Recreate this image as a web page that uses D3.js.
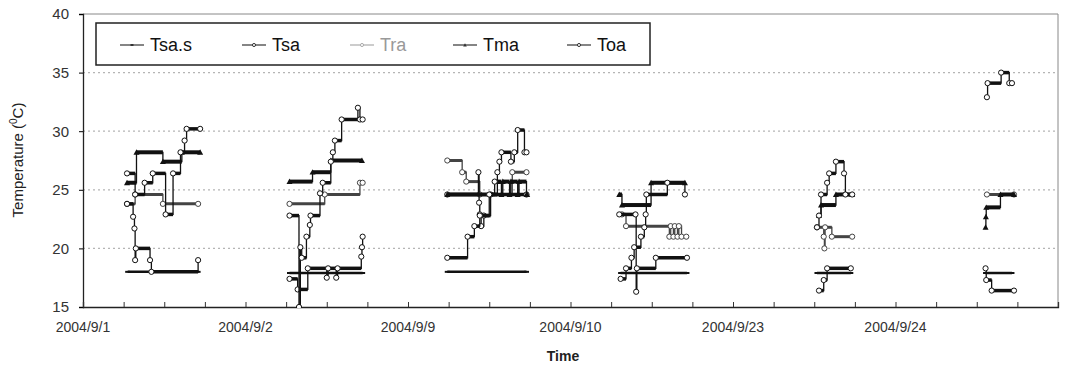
<!DOCTYPE html>
<html>
<head>
<meta charset="utf-8">
<script src="https://cdn.jsdelivr.net/npm/d3@7"></script>
<style>
body { margin: 0; background: #fff; }
svg { display: block; font-family: "Liberation Sans", Arial, sans-serif; }
</style>
</head>
<body>
<div class="chart"></div>
<script>
// day labels, one every 24 h (x values are hours from 2004/9/1 0:00 on the compressed axis)
var categories = ["2004/9/1", "2004/9/2", "2004/9/9", "2004/9/10", "2004/9/23", "2004/9/24"];
var yTicks = [15, 20, 25, 30, 35, 40];

// [hour, temperature], null = gap between days
var tsaS = [
    [6.6, 18.0], [17.0, 18.0], null,
    [30.5, 17.9], [41.3, 17.9], null,
    [53.8, 18.0], [65.5, 18.0], null,
    [79.4, 17.9], [89.2, 17.9], null,
    [108.4, 17.9], [113.4, 17.9], null,
    [133.3, 17.9], [137.2, 17.9]
];

var tsa = [
    [6.5, 23.8], [7.4, 22.7], [7.6, 21.7], [7.7, 19.0], [7.8, 20.0], [9.9, 19.0], [10.1, 18.0], [17.0, 19.0], null,
    [30.5, 17.4], [31.7, 16.5], [33.2, 18.3], [36.0, 17.5], [36.2, 18.3], [37.4, 17.5], [37.6, 18.3], [41.1, 19.3], [41.2, 20.1], [41.3, 21.0], null,
    [53.8, 24.6], [58.4, 26.5], [58.5, 23.9], [58.6, 22.9], [58.8, 21.9], [59.2, 22.8], [60.2, 24.6], [65.5, 24.6], null,
    [79.2, 22.9], [81.6, 22.9], [81.7, 16.3], [81.8, 18.3], [84.6, 19.2], [89.2, 19.2], null,
    [108.7, 16.4], [109.4, 17.3], [109.9, 18.3], [113.4, 18.3], null,
    [133.3, 18.3], [133.4, 17.3], [134.2, 16.4], [137.5, 16.4]
];

var tra = [
    [6.5, 23.8], [7.7, 24.6], [11.8, 23.8], [17.0, 23.8], null,
    [30.5, 23.8], [35.7, 24.6], [40.9, 25.6], [41.3, 25.6], null,
    [53.8, 27.5], [56.0, 26.5], [56.6, 25.7], [58.6, 24.6], [63.4, 26.5], [65.5, 26.5], null,
    [79.6, 22.9], [80.2, 21.9], [86.6, 21.0], [86.8, 21.9], [87.2, 21.0], [87.4, 21.9], [87.8, 21.0], [88.0, 21.9], [88.4, 21.0], [89.1, 21.0], null,
    [108.4, 21.8], [109.4, 21.0], [109.5, 20.0], [109.6, 21.8], [110.6, 21.0], [113.6, 21.0], null,
    [133.5, 24.6], [137.5, 24.6]
];

var tma = [
    [6.5, 25.6], [7.9, 28.2], [11.8, 27.4], [14.6, 28.2], [17.3, 28.2], null,
    [30.5, 25.7], [33.9, 26.5], [36.6, 27.5], [41.2, 27.5], null,
    [53.8, 24.6], [61.2, 25.7], [61.8, 24.6], [62.0, 25.7], [63.0, 24.6], [63.2, 25.7], [64.2, 24.6], [64.4, 25.7], [65.5, 24.6], [65.6, 24.6], null,
    [79.2, 24.6], [79.6, 23.7], [83.9, 25.6], [88.9, 25.6], null,
    [108.7, 22.8], [109.0, 23.7], [111.2, 24.6], [113.6, 24.6], null,
    [133.3, 21.8], [133.35, 22.7], [133.4, 23.5], [135.5, 24.6], [137.5, 24.6]
];

var toa = [
    [6.5, 26.4], [7.7, 24.6], [9.1, 25.6], [10.3, 26.4], [12.2, 22.9], [13.3, 26.4], [14.4, 28.2], [15.0, 29.2], [15.3, 30.2], [17.3, 30.2], null,
    [30.5, 22.8], [31.9, 15.0], [32.1, 20.1], [32.3, 19.2], [33.0, 21.0], [33.5, 22.0], [33.6, 22.8], [35.0, 24.7], [35.4, 25.6], [36.6, 27.4], [36.9, 28.2], [37.2, 29.2], [38.2, 31.0], [40.6, 32.0], [40.9, 31.0], [41.3, 31.0], null,
    [53.8, 19.2], [56.8, 21.0], [57.8, 21.9], [58.6, 22.8], [60.0, 24.6], [60.8, 25.7], [61.2, 26.5], [61.5, 27.4], [61.8, 28.2], [63.2, 27.4], [63.7, 28.2], [64.2, 30.1], [65.2, 28.2], [65.5, 28.2], null,
    [79.4, 17.4], [80.2, 18.3], [81.0, 19.2], [81.4, 20.1], [82.4, 21.0], [82.9, 21.8], [83.1, 22.9], [83.2, 24.6], [86.3, 25.6], [88.9, 24.6], null,
    [108.4, 21.8], [108.7, 22.8], [109.0, 24.6], [109.9, 25.6], [110.2, 26.4], [111.2, 27.4], [112.4, 26.4], [112.6, 24.6], [113.6, 24.6], null,
    [133.5, 32.9], [133.6, 34.1], [135.6, 35.0], [136.8, 34.1], [137.2, 34.1]
];

var series = [
    {name: "Tra", data: tra, color: "#444", legendColor: "#aaa", bar: 3, marker: "circle"},
    {name: "Tsa.s", data: tsaS, color: "#111", legendColor: "#333", bar: 2.5, marker: "dash"},
    {name: "Tsa", data: tsa, color: "#111", legendColor: "#333", bar: 3.5, marker: "circle"},
    {name: "Tma", data: tma, color: "#111", legendColor: "#333", bar: 4, marker: "triangle"},
    {name: "Toa", data: toa, color: "#111", legendColor: "#333", bar: 3.5, marker: "circle"}
];
var legendOrder = ["Tsa.s", "Tsa", "Tra", "Tma", "Toa"];

var width = 1065, height = 367;
var plotLeft = 83, plotRight = 1058, plotTop = 14, plotBottom = 307;

var x = d3.scaleLinear().domain([0, 144]).range([plotLeft, plotRight]);
var y = d3.scaleLinear().domain([15, 40]).range([plotBottom, plotTop]);

var svg = d3.select(".chart").append("svg")
    .attr("width", width)
    .attr("height", height);

svg.append("defs").append("clipPath").attr("id", "plot")
    .append("rect")
    .attr("x", plotLeft).attr("y", plotTop)
    .attr("width", plotRight - plotLeft).attr("height", plotBottom - plotTop + 1);

// grid
svg.append("g").selectAll("line")
    .data(yTicks.filter(function(d){ return d > 15 && d < 40; }))
    .enter().append("line")
    .attr("x1", plotLeft).attr("x2", plotRight)
    .attr("y1", function(d){ return y(d); })
    .attr("y2", function(d){ return y(d); })
    .attr("stroke", "#b5b5b5")
    .attr("stroke-width", 1.2)
    .attr("stroke-dasharray", "2,3");

// frame top / right
svg.append("path")
    .attr("d", "M" + plotLeft + "," + y(40) + "H" + plotRight + "V" + y(15))
    .attr("fill", "none")
    .attr("stroke", "#888")
    .attr("stroke-width", 1);

// axes
var yAxis = d3.axisLeft(y).tickValues(yTicks).tickSize(4).tickPadding(10);
var gy = svg.append("g").attr("transform", "translate(" + plotLeft + ",0)").call(yAxis);
gy.select(".domain").attr("stroke", "#222").attr("stroke-width", 1.3);
gy.selectAll("text").attr("font-size", 15).attr("fill", "#333").attr("font-family", "Liberation Sans, Arial, sans-serif");

var xAxis = d3.axisBottom(x).tickValues(d3.range(0, 145, 6)).tickSize(-5).tickFormat("");
var gx = svg.append("g").attr("transform", "translate(0," + plotBottom + ")").call(xAxis);
gx.select(".domain").attr("stroke", "#222").attr("stroke-width", 1.3);
gx.selectAll(".tick line").attr("stroke", "#333");

svg.append("g").selectAll("text")
    .data(categories)
    .enter().append("text")
    .attr("x", function(d, i){ return x(i * 24); })
    .attr("y", 332)
    .attr("text-anchor", "middle")
    .attr("font-size", 14)
    .attr("fill", "#333")
    .text(function(d){ return d; });

svg.append("text")
    .attr("x", 563).attr("y", 361)
    .attr("text-anchor", "middle")
    .attr("font-size", 14)
    .attr("font-weight", "bold")
    .attr("fill", "#222")
    .text("Time");

var yt = svg.append("text")
    .attr("transform", "translate(23,160) rotate(-90)")
    .attr("text-anchor", "middle")
    .attr("font-size", 15)
    .attr("fill", "#222");
yt.append("tspan").text("Temperature (");
yt.append("tspan").attr("font-size", 10).attr("dy", -6).text("0");
yt.append("tspan").attr("dy", 6).text("C)");

function segments(data) {
    var segs = [], cur = [];
    data.forEach(function(p){
        if (p === null) { if (cur.length) segs.push(cur); cur = []; }
        else cur.push(p);
    });
    if (cur.length) segs.push(cur);
    return segs;
}

function drawMarker(g, s, px, py, scale) {
    var k = scale || 1;
    if (s.marker === "circle") {
        g.append("circle").attr("cx", px).attr("cy", py).attr("r", 2.6 * k)
            .attr("fill", "#fff").attr("stroke", s.color).attr("stroke-width", 1);
    } else if (s.marker === "triangle") {
        var r = 3 * k;
        g.append("path")
            .attr("d", "M" + px + "," + (py - r) + "L" + (px + r) + "," + (py + r * 0.8) + "L" + (px - r) + "," + (py + r * 0.8) + "Z")
            .attr("fill", s.color);
    } else {
        g.append("line").attr("x1", px - 2.5 * k).attr("x2", px + 2.5 * k)
            .attr("y1", py).attr("y2", py)
            .attr("stroke", s.color).attr("stroke-width", 2);
    }
}

var line = d3.line()
    .x(function(d){ return x(d[0]); })
    .y(function(d){ return y(d[1]); })
    .curve(d3.curveStepAfter);

var plot = svg.append("g").attr("clip-path", "url(#plot)");

series.forEach(function(s){
    var g = plot.append("g");
    segments(s.data).forEach(function(seg){
        g.append("path")
            .attr("d", line(seg))
            .attr("fill", "none")
            .attr("stroke", s.color)
            .attr("stroke-width", 1.3);
        // dense samples on flat runs show as heavy bars
        for (var i = 0; i < seg.length - 1; i++) {
            g.append("line")
                .attr("x1", x(seg[i][0])).attr("x2", x(seg[i + 1][0]))
                .attr("y1", y(seg[i][1])).attr("y2", y(seg[i][1]))
                .attr("stroke", s.color)
                .attr("stroke-width", s.bar);
        }
        seg.forEach(function(p){ drawMarker(g, s, x(p[0]), y(p[1])); });
    });
});

// legend
var lg = svg.append("g");
lg.append("rect")
    .attr("x", 96).attr("y", 23)
    .attr("width", 554).attr("height", 42)
    .attr("fill", "#fff")
    .attr("stroke", "#222")
    .attr("stroke-width", 1.5);

var legendX = [120, 242, 350, 453, 567];
legendOrder.forEach(function(name, i){
    var s = series.filter(function(d){ return d.name === name; })[0];
    var lx = legendX[i];
    lg.append("line")
        .attr("x1", lx).attr("x2", lx + 24)
        .attr("y1", 45).attr("y2", 45)
        .attr("stroke", s.legendColor)
        .attr("stroke-width", 1.2);
    drawMarker(lg, {marker: s.marker, color: s.legendColor}, lx + 12, 45, 0.6);
    lg.append("text")
        .attr("x", lx + 30).attr("y", 51)
        .attr("font-size", 18)
        .attr("fill", s.name === "Tra" ? "#999" : "#111")
        .text(name);
});
</script>
</body>
</html>
